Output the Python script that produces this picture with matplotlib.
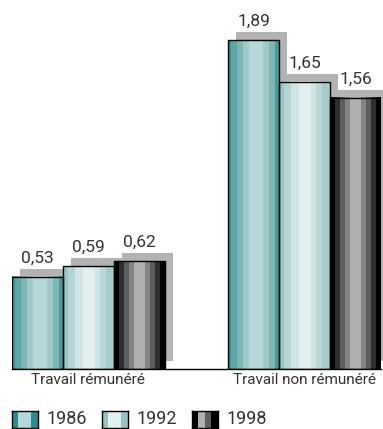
import numpy as np
import matplotlib.pyplot as plt
import matplotlib.transforms as mtransforms
from matplotlib.colors import to_rgb

plt.rcParams['font.family'] = ['Roboto', 'DejaVu Sans']

categories = ["Travail rémunéré", "Travail non rémunéré"]
years = ["1986", "1992", "1998"]
values = {
    "1986": [0.53, 1.89],
    "1992": [0.59, 1.65],
    "1998": [0.62, 1.56],
}
labels = {
    "1986": ["0,53", "1,89"],
    "1992": ["0,59", "1,65"],
    "1998": ["0,62", "1,56"],
}

# stripe colours (colour, relative width) for the "cylinder" look
stripes = {
    "1986": [("#3a9494", 3), ("#5fa7a7", 6), ("#7db8b8", 6), ("#a0caca", 6), ("#b5d7d7", 14),
             ("#a0caca", 6), ("#7db8b8", 6), ("#4a9c9c", 4)],
    "1992": [("#9cc6c6", 5), ("#b2d4d4", 7), ("#cfe5e5", 7), ("#e3efef", 12), ("#cfe5e5", 5),
             ("#b8d8d8", 5), ("#a5cccc", 8)],
    "1998": [("#000000", 5), ("#2e2e2e", 5), ("#5e5e5e", 5), ("#848484", 5), ("#b0b0b0", 12),
             ("#848484", 5), ("#5e5e5e", 5), ("#2e2e2e", 5), ("#000000", 5)],
}
legend_stripes = {
    "1986": [("#2e8b8b", 1), ("#b5d7d7", 2), ("#2e8b8b", 1)],
    "1992": [("#94c4c4", 1), ("#e3efef", 2), ("#94c4c4", 1)],
    "1998": [("#000000", 1), ("#b0b0b0", 1), ("#5e5e5e", 1), ("#000000", 1)],
}
shadow_color = "#b3b3b3"
text_color = "#333333"


def stripe_image(spec):
    cols = []
    for c, w in spec:
        cols += [to_rgb(c)] * w
    return np.array([cols])


W, H = 383, 429
fig = plt.figure(figsize=(W / 100, H / 100), dpi=100)
ax = fig.add_axes([12 / W, 60 / H, 369 / W, 369 / H])

x = np.arange(len(categories))
width = 51 / 217
offsets = [-1, 0, 1]
shadow_tr = ax.transData + mtransforms.ScaledTranslation(0.08, 0.08, fig.dpi_scale_trans)

for yr, off in zip(years, offsets):
    pos = x + off * width
    ax.bar(pos, values[yr], width, color=shadow_color, transform=shadow_tr,
           zorder=1, clip_on=False)
    bars = ax.bar(pos, values[yr], width, facecolor="none", edgecolor="black",
                  linewidth=1, zorder=3)
    img = stripe_image(stripes[yr])
    for b, lab in zip(bars, labels[yr]):
        x0, w, h = b.get_x(), b.get_width(), b.get_height()
        ax.imshow(img, extent=[x0, x0 + w, 0, h], aspect="auto",
                  interpolation="nearest", zorder=2)
        ax.annotate(lab, (x0 + w / 2, h), xytext=(0, 8), textcoords="offset points",
                    ha="center", va="bottom", fontsize=12.5, color=text_color)

ax.set_xlim(-76.5 / 217, 1 + 76.5 / 217)
ax.set_ylim(0, 369 / 174)
ax.set_xticks(x)
ax.set_xticklabels(categories, fontsize=11, color=text_color)
ax.tick_params(axis="x", length=0, pad=3)
ax.set_yticks([])
for s in ["top", "left", "right"]:
    ax.spines[s].set_visible(False)
ax.spines["bottom"].set_linewidth(1)
ax.spines["bottom"].set_zorder(4)

# legend
for i, yr in enumerate(years):
    lx = 12 + i * 90
    lax = fig.add_axes([lx / W, 1 / H, 26 / W, 17 / H])
    lax.imshow(stripe_image(legend_stripes[yr]), aspect="auto", interpolation="nearest")
    lax.set_xticks([])
    lax.set_yticks([])
    for s in lax.spines.values():
        s.set_linewidth(1)
        s.set_color("black")
    fig.text((lx + 35) / W, 10 / H, yr, ha="left", va="center",
             fontsize=13, color=text_color)

fig.savefig("out.png", dpi=100)
